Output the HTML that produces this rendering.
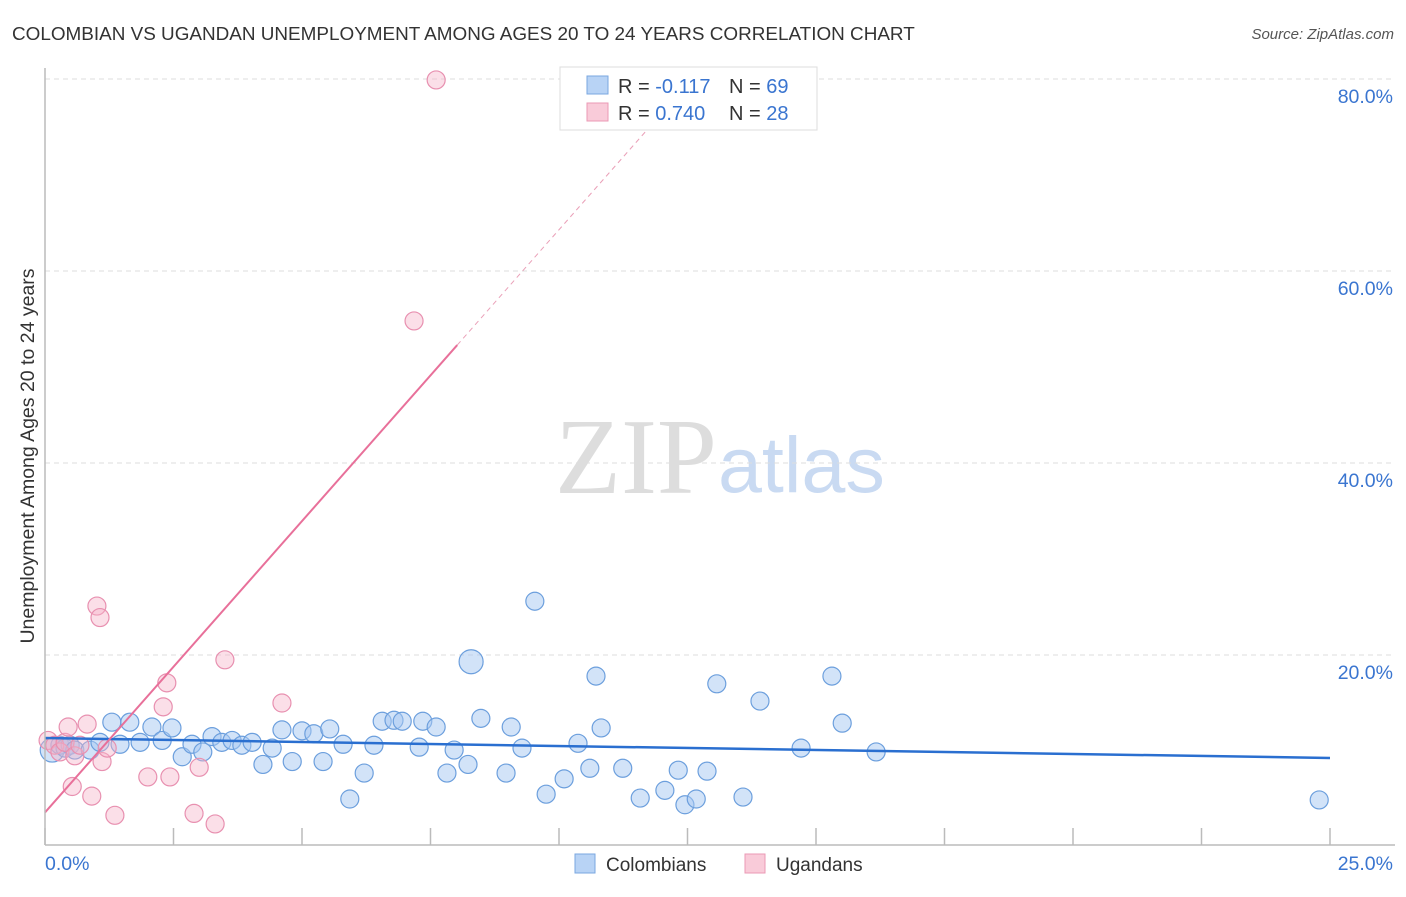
<!DOCTYPE html>
<html><head><meta charset="utf-8"><style>
body{margin:0;background:#fff;font-family:"Liberation Sans",sans-serif}
svg text{font-family:"Liberation Sans",sans-serif}
</style></head><body>
<svg id="c" width="1406" height="892">
<text x="12" y="40" font-size="18.9" fill="#333">COLOMBIAN VS UGANDAN UNEMPLOYMENT AMONG AGES 20 TO 24 YEARS CORRELATION CHART</text>
<text x="1394" y="39" font-size="15" fill="#555" text-anchor="end" font-style="italic">Source: ZipAtlas.com</text>
<text x="555" y="493" font-size="108" fill="#ddd" style="font-family:'Liberation Serif',serif">ZIP</text>
<text x="718" y="492" font-size="79" fill="#c9daf2">atlas</text>
<g id="grid"></g><g id="pts"></g><g id="lines"></g>
<line x1="45" y1="68" x2="45" y2="845" stroke="#bbb" stroke-width="1.5"/>
<line x1="45" y1="845" x2="1395" y2="845" stroke="#bbb" stroke-width="1.5"/>
<text x="45" y="870" font-size="19.5" fill="#3a75d0">0.0%</text>
<text x="1393" y="870" font-size="19.5" fill="#3a75d0" text-anchor="end">25.0%</text>
<text transform="translate(34,456) rotate(-90)" font-size="19.5" fill="#333" text-anchor="middle">Unemployment Among Ages 20 to 24 years</text>
<g>
<rect x="560" y="67" width="257" height="63" fill="#fff" stroke="#ddd"/>
<rect x="587" y="76" width="21" height="18" fill="#b8d3f5" stroke="#7aa7e0"/>
<rect x="587" y="103" width="21" height="18" fill="#f9cbd9" stroke="#eb9ab5"/>
<text x="618" y="93" font-size="20" fill="#333">R = <tspan fill="#3a75d0">-0.117</tspan></text>
<text x="729" y="93" font-size="20" fill="#333">N = <tspan fill="#3a75d0">69</tspan></text>
<text x="618" y="120" font-size="20" fill="#333">R = <tspan fill="#3a75d0">0.740</tspan></text>
<text x="729" y="120" font-size="20" fill="#333">N = <tspan fill="#3a75d0">28</tspan></text>
</g>
<g>
<rect x="575" y="854" width="20" height="19" fill="#b8d3f5" stroke="#7aa7e0"/>
<text x="606" y="871" font-size="19" fill="#333">Colombians</text>
<rect x="745" y="854" width="20" height="19" fill="#f9cbd9" stroke="#eb9ab5"/>
<text x="776" y="871" font-size="19" fill="#333">Ugandans</text>
</g>
</svg>
<script>
const yTicks=[20,40,60,80];
const xTicks=[0,2.5,5,7.5,10,12.5,15,17.5,20,22.5,25];
const colX=[0.14,0.29,0.39,0.49,0.58,0.88,1.07,1.30,1.46,1.65,1.85,2.08,2.28,2.47,2.67,2.86,3.07,3.25,3.44,3.64,3.83,4.03,4.24,4.42,4.61,4.81,5.00,5.23,5.41,5.54,5.80,5.93,6.21,6.40,6.56,6.79,6.95,7.28,7.35,7.61,7.82,7.96,8.23,8.48,8.97,9.07,9.28,9.53,9.75,10.10,10.37,10.60,10.72,10.82,11.24,11.58,12.06,12.32,12.45,12.67,12.88,13.07,13.58,13.91,14.71,15.31,15.51,16.17,24.79];
const colY=[10.1,10.6,10.3,10.6,10.1,10.1,10.9,13.0,10.7,13.0,10.9,12.5,11.1,12.4,9.4,10.7,9.9,11.5,10.9,11.1,10.6,10.9,8.6,10.3,12.2,8.9,12.1,11.8,8.9,12.3,10.7,5.0,7.7,10.6,13.1,13.2,13.1,10.4,13.1,12.5,7.7,10.1,8.6,13.4,7.7,12.5,10.3,25.6,5.5,7.1,10.8,8.2,17.8,12.4,8.2,5.1,5.9,8.0,4.4,5.0,7.9,17.0,5.2,15.2,10.3,17.8,12.9,9.9,4.9];
const colX2=[8.29], colY2=[19.3];
const ugaX=[0.06,0.19,0.29,0.39,0.45,0.53,0.58,0.68,0.82,0.91,1.01,1.07,1.11,1.21,1.36,2.00,2.30,2.37,2.43,2.90,3.00,3.31,3.50,4.61,7.18,7.61];
const ugaY=[11.1,10.6,9.9,10.9,12.5,6.3,9.5,10.6,12.8,5.3,25.1,23.9,8.9,10.3,3.3,7.3,14.6,17.1,7.3,3.5,8.3,2.4,19.5,15.0,54.8,79.9];
const colLine=[11.35,-0.083];
const ugaLine=[3.6,6.07];
const ugaSolidEnd=8.02, ugaDashEnd=12.6;
const NS="http://www.w3.org/2000/svg";
const sx=v=>45+v*1285/25, sy=v=>847-v*9.6;
function mk(t,a,p){const e=document.createElementNS(NS,t);for(const k in a)e.setAttribute(k,a[k]);p.appendChild(e);return e;}
const g=document.getElementById('grid');
yTicks.forEach(t=>{
 const l=mk('line',{x1:45,x2:1395,y1:sy(t),y2:sy(t),stroke:'#ddd','stroke-dasharray':'5,4'},g);
 
 
 const tx=mk('text',{x:1393,y:sy(t)+24,'font-size':19.5,fill:'#3a75d0','text-anchor':'end'},g);
 tx.textContent=t.toFixed(1)+'%';
 
 
});
xTicks.forEach(t=>{
 const l=mk('line',{x1:sx(t),x2:sx(t),y1:828,y2:845,stroke:'#bbb','stroke-width':1.5},g);
 
 
});
const p=document.getElementById('pts');
function pts(X,Y,fill,stroke,name){X.forEach((x,i)=>{
 const r=(i===0&&name==='colombian-point')?12:9;
 const c=mk('circle',{cx:sx(x),cy:sy(Y[i]),r:r,fill:fill,stroke:stroke,'stroke-width':1.2},p);
 
 
});}
pts(colX,colY,'rgba(165,199,242,0.5)','#6c9fdd','colombian-point');
pts(colX2,colY2,'rgba(165,199,242,0.5)','#6c9fdd','colombian-point');
pts(ugaX,ugaY,'rgba(246,178,201,0.42)','#e890b0','ugandan-point');
const L=document.getElementById('lines');
let a=mk('line',{x1:sx(0),y1:sy(colLine[0]),x2:sx(25),y2:sy(colLine[0]+colLine[1]*25),stroke:'#2a6fd0','stroke-width':2.5},L);


let b=mk('line',{x1:sx(0),y1:sy(ugaLine[0]),x2:sx(ugaSolidEnd),y2:sy(ugaLine[0]+ugaLine[1]*ugaSolidEnd),stroke:'#e8709a','stroke-width':2},L);


let d=mk('line',{x1:sx(ugaSolidEnd),y1:sy(ugaLine[0]+ugaLine[1]*ugaSolidEnd),x2:sx(ugaDashEnd),y2:sy(ugaLine[0]+ugaLine[1]*ugaDashEnd),stroke:'#eaa0b8','stroke-width':1,'stroke-dasharray':'5,4'},L);


</script>
</body></html>
